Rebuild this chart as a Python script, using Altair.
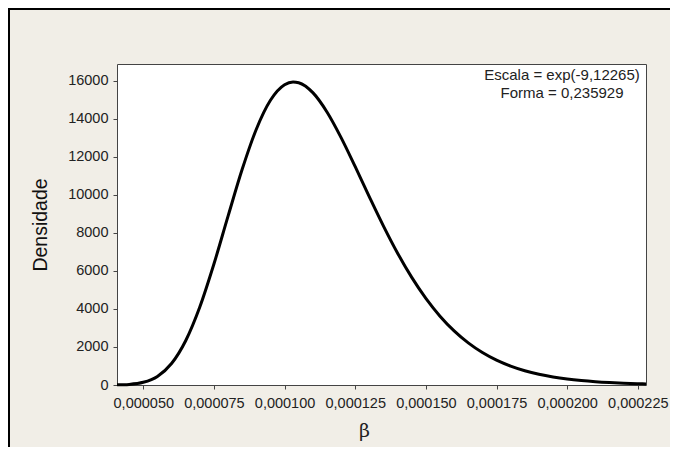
import altair as alt
import pandas as pd

# values
beta = [4.07e-5, 4.5e-5, 5.0e-5, 5.5e-5, 6.0e-5, 6.5e-5, 7.0e-5, 7.5e-5, 8.0e-5,
        8.5e-5, 9.0e-5, 9.5e-5, 10.0e-5, 10.3e-5, 10.5e-5, 11.0e-5, 11.5e-5, 12.0e-5,
        12.5e-5, 13.0e-5, 13.5e-5, 14.0e-5, 14.5e-5, 15.0e-5, 15.5e-5, 16.0e-5,
        16.5e-5, 17.0e-5, 17.5e-5, 18.0e-5, 18.5e-5, 19.0e-5, 19.5e-5, 20.0e-5,
        20.5e-5, 21.0e-5, 21.5e-5, 22.0e-5, 22.5e-5, 22.79e-5]
density = [7, 32, 141, 451, 1128, 2326, 4099, 6359, 8874,
           11336, 13443, 14964, 15781, 15925, 15887, 15364, 14350, 13002,
           11472, 9889, 8352, 6927, 5654, 4551, 3617, 2843,
           2213, 1707, 1307, 994, 751, 564, 422, 314,
           233, 172, 127, 93, 68, 58]

x_ticks = [0.000050, 0.000075, 0.000100, 0.000125, 0.000150, 0.000175, 0.000200, 0.000225]
y_ticks = [0, 2000, 4000, 6000, 8000, 10000, 12000, 14000, 16000]
x_domain = [4.07e-5, 22.79e-5]
y_domain = [0, 16870]
note_lines = ["Escala = exp(-9,12265)", "Forma = 0,235929"]
x_title = "β"
y_title = "Densidade"

df = pd.DataFrame({"beta": beta, "dens": density})

W, H = 529, 321
PAD_L, PAD_T, PAD_R, PAD_B = 109, 56, 24, 62
FONT = "Liberation Sans"

line = alt.Chart(df).mark_line(color="black", strokeWidth=3, interpolate="monotone").encode(
    x=alt.X("beta:Q",
            scale=alt.Scale(domain=x_domain, nice=False, zero=False),
            axis=alt.Axis(values=x_ticks,
                          labelExpr="replace(format(datum.value, '.6f'), '.', ',')",
                          title=x_title, titleFontSize=19, titleFont="DejaVu Serif",
                          titleFontWeight="normal", titleColor="#222",
                          titleX=247, titleY=45, titleBaseline="middle", titleAlign="center",
                          labelPadding=7, labelOverlap=False, labelFlush=False)),
    y=alt.Y("dens:Q",
            scale=alt.Scale(domain=y_domain, nice=False, zero=True),
            axis=alt.Axis(values=y_ticks, format="d", title=y_title,
                          titleFontSize=19.5, titleFont=FONT, titleFontWeight="normal",
                          titleColor="#111", titleAngle=-90, titleX=-77, titleY=H / 2,
                          titleBaseline="middle", titleAlign="center",
                          labelPadding=5)),
)

note = alt.Chart(pd.DataFrame({"a": [0]})).mark_text(
    text=note_lines, font=FONT, fontSize=15, color="#222", align="center",
    baseline="middle", lineHeight=18
).encode(x=alt.value(445), y=alt.value(11))

frame_left = alt.Chart(pd.DataFrame({"a": [0]})).mark_rule(color="black", strokeWidth=2).encode(
    x=alt.value(-PAD_L + 1), y=alt.value(-PAD_T), y2=alt.value(H + PAD_B))
frame_top = alt.Chart(pd.DataFrame({"a": [0]})).mark_rule(color="black", strokeWidth=2).encode(
    y=alt.value(-PAD_T + 1), x=alt.value(-PAD_L), x2=alt.value(W + PAD_R))

chart = alt.layer(line, note, frame_left, frame_top).properties(
    width=W, height=H,
    padding={"left": PAD_L, "top": PAD_T, "right": PAD_R, "bottom": PAD_B},
    autosize=alt.AutoSizeParams(type="none"),
    background="#F1EEE7",
).configure_view(
    fill="white", stroke="#444", strokeWidth=1
).configure_axis(
    domain=False, grid=False, ticks=True, tickColor="#444", tickSize=4,
    labelFont=FONT, labelFontSize=14.5, labelColor="#222"
)

chart.save("out.html", embed_options={"renderer": "svg", "actions": False})
